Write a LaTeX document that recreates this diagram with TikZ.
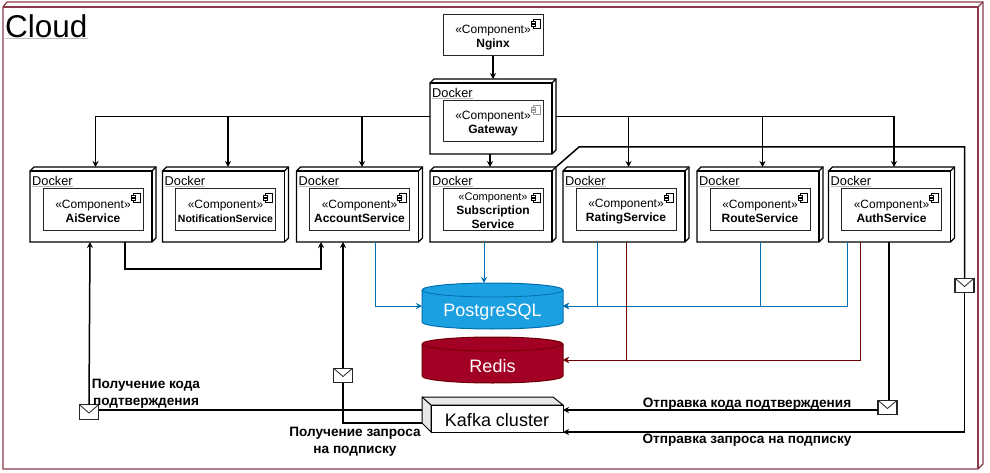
\documentclass[tikz,border=0pt]{standalone}
\usepackage{fontspec}
\setmainfont{Liberation Sans}
\usetikzlibrary{arrows.meta,calc}
\definecolor{cloudline}{HTML}{8A3A48}
\definecolor{dbblue}{HTML}{1BA1E2}
\definecolor{dbblueline}{HTML}{006EAF}
\definecolor{dbred}{HTML}{A20025}
\definecolor{dbredline}{HTML}{6F0000}
\newcommand{\grayunder}[1]{\setbox0\hbox{#1}\rlap{\color{lightgray}\rule[-1.2pt]{\wd0}{1pt}}\box0}
\newcommand{\fsize}[2]{\fontsize{#1}{#2}\selectfont}
\newcommand{\complabel}[1][12.6pt]{\rule{0pt}{#1}«Component»}
\newcommand{\compicon}[2][black]{
  \draw [compicon,draw=#1] ([shift={(-10,4)}]#2.north east) rectangle ([shift={(-3,13)}]#2.north east);
  \draw [compicon,draw=#1] ([shift={(-12,6)}]#2.north east) rectangle ([shift={(-8,8)}]#2.north east);
  \draw [compicon,draw=#1] ([shift={(-12,9)}]#2.north east) rectangle ([shift={(-8,11)}]#2.north east);
}
\newcommand{\dockerparts}[2]{
  \draw [line width=1.2pt,fill=white] (#1.south west) -- ([shift={(0,4)}]#1.north west) -- ([shift={(4,0)}]#1.north west) -- (#1.north east) -- ([shift={(0,-4)}]#1.south east) -- ([shift={(-4,0)}]#1.south east) -- cycle;
  \draw [line width=1.2pt] ([shift={(0,4)}]#1.north west) -- ([shift={(-4,4)}]#1.north east) -- ([shift={(-4,0)}]#1.south east);
  \draw [line width=1.2pt] ([shift={(-4,4)}]#1.north east) -- (#1.north east);
  \node [dockertext] (#1-docker) at ([shift={(2,18.5)}]#1.north west) {\grayunder{Docker}};
  \node [compbox] (#1-comp) at ([yshift=-5pt]#1.center) {#2};
}
\newcommand{\dbparts}[4]{
  \draw [draw=#3,fill=#2,line width=1pt] ([shift={(0,7)}]#1.north west) arc [start angle=180,end angle=0,x radius=70.5pt,y radius=7pt] -- ([shift={(0,-7)}]#1.south east) arc [start angle=0,end angle=-180,x radius=70.5pt,y radius=7pt] -- cycle;
  \draw [draw=#3,line width=0.8pt] ([shift={(0,7)}]#1.north west) arc [start angle=180,end angle=360,x radius=70.5pt,y radius=7pt];
  \node [dbtext] (#1-text) at ([yshift=-6.5pt]#1.center) {#4};
}
\begin{document}
\begin{tikzpicture}[x=1pt,y=-1pt,
  dockerbox/.style={minimum width=126pt,minimum height=75pt,inner sep=0pt,outer sep=0pt},
  dockertext/.style={anchor=base west,inner sep=0pt,font=\fsize{12.8}{15}},
  compbox/.style={draw=black!85,line width=1pt,minimum width=100pt,minimum height=41pt,inner sep=0pt,outer sep=0pt,align=center,font=\fsize{12}{14}},
  compicon/.style={line width=0.7pt,fill=white},
  mailbox/.style={draw=black!85,fill=white,line width=1.1pt,minimum width=19pt,minimum height=14.5pt,inner sep=0pt,outer sep=0pt,
    path picture={\draw[line width=0.8pt] (path picture bounding box.north west) -- ($(path picture bounding box.center)+(0,1)$) -- (path picture bounding box.north east);}},
  dbbox/.style={minimum width=141pt,minimum height=46pt,inner sep=0pt,outer sep=0pt},
  dbtext/.style={inner sep=0pt,text=white,font=\fsize{18}{20}},
  wire/.style={line width=1.5pt,black},
  flow/.style={wire,-{Stealth[length=6pt,width=6pt]}},
  blueflow/.style={flow,dbblueline,line width=0.95pt},
  redflow/.style={flow,dbredline,line width=0.95pt},
  msgtext/.style={inner sep=0pt,align=center,font=\bfseries\fsize{13.6}{17}}]
\useasboundingbox (0,0) rectangle (990,473);
\draw [cloudline,line width=1.2pt] (3,7) -- (7,2) -- (983,2) -- (983,464) -- (978,469) -- (3,469) -- cycle;
\draw [cloudline,line width=1.2pt] (3,7) -- (978,7) -- (978,469);
\draw [cloudline,line width=1.2pt] (978,7) -- (983,2);
\node [anchor=base west,inner sep=0pt,font=\fsize{31.5}{34}] (cloudlabel) at (5,37.5) {\grayunder{Cloud}};

\node [compbox] (nginx) at (493,35.5) {\complabel\\\textbf{Nginx}};
\compicon{nginx}

\node [dockerbox] (gateway) at (493,116.5) {};
\node [dockerbox] (ai) at (93,204.5) {};
\node [dockerbox] (notification) at (225.5,204.5) {};
\node [dockerbox] (account) at (359.5,204.5) {};
\node [dockerbox] (subscription) at (493,204.5) {};
\node [dockerbox] (rating) at (626,204.5) {};
\node [dockerbox] (route) at (760,204.5) {};
\node [dockerbox] (auth) at (891.5,204.5) {};

\dockerparts{gateway}{\complabel\\\textbf{Gateway}}
\compicon[black!40]{gateway-comp}
\dockerparts{ai}{\complabel\\\textbf{AiService}}
\compicon{ai-comp}
\dockerparts{notification}{\fsize{12}{12}\complabel[11.5pt]\\\textbf{\fsize{10.5}{12}NotificationService}}
\compicon{notification-comp}
\dockerparts{account}{\complabel\\\textbf{AccountService}}
\compicon{account-comp}
\dockerparts{subscription}{\fsize{11}{13.5}\complabel[11pt]\\\textbf{Subscription}\\\textbf{Service}}
\compicon{subscription-comp}
\dockerparts{rating}{\complabel\\\textbf{RatingService}}
\compicon{rating-comp}
\dockerparts{route}{\complabel\\\textbf{RouteService}}
\compicon{route-comp}
\dockerparts{auth}{\complabel\\\textbf{AuthService}}
\compicon{auth-comp}

\node [dbbox] (postgres) at (492.5,306) {};
\dbparts{postgres}{dbblue}{dbblueline}{PostgreSQL}
\node [dbbox] (redis) at (492.5,360) {};
\dbparts{redis}{dbred}{dbredline}{Redis}

\draw [line width=1pt,fill=black!9] (422,397) -- (553,397) -- (563,405) -- (431,405) -- (431,432) -- (422,423) -- cycle;
\node [draw,fill=white,line width=1pt,minimum width=132pt,minimum height=27pt,inner sep=0pt,outer sep=0pt,font=\fsize{18}{20}] (kafka) at (497,418.5) {\rule{0pt}{16pt}Kafka cluster};
\draw [line width=1pt] (422,397) -- (kafka.north west);

\node [mailbox] (mailcodein) at (89,412) {};
\node [mailbox] (mailsubin) at (343,375.5) {};
\node [mailbox] (mailcodeout) at (887.5,407.5) {};
\node [mailbox] (mailsubout) at (964.5,285.5) {};
\coordinate (subbend) at (579,147);

\draw [flow] (nginx.south) -- (gateway.north);
\draw [flow] (gateway.west) -| ([xshift=2.5pt]ai.north);
\draw [flow] (gateway.west) -| ([xshift=2.5pt]notification.north);
\draw [flow] (gateway.west) -| ([xshift=2.5pt]account.north);
\draw [flow] (gateway.east) -| ([xshift=2.5pt]rating.north);
\draw [flow] (gateway.east) -| ([xshift=2.5pt]route.north);
\draw [flow] (gateway.east) -| ([xshift=2.5pt]auth.north);
\draw [flow] ([xshift=-3pt]gateway.south) -- ([xshift=-3pt]subscription.north);
\draw [flow] ([xshift=32pt]ai.south) -- ++(0,27) -| ([xshift=-38.5pt]account.south);

\draw [blueflow] ([xshift=15.5pt]account.south) |- (postgres.west);
\draw [blueflow] ([xshift=-9pt]subscription.south) -- ([xshift=-8.5pt]postgres.north);
\draw [blueflow] ([xshift=-29pt]rating.south) |- (postgres.east);
\draw [blueflow] (route.south) |- (postgres.east);
\draw [blueflow] ([xshift=-44.5pt]auth.south) |- (postgres.east);
\draw [redflow] (rating.south) |- (redis.east);
\draw [redflow] ([xshift=-31.5pt]auth.south) |- (redis.east);

\draw [wire] ([xshift=-2.5pt]auth.south) -- ([xshift=1.5pt]mailcodeout.north);
\draw [flow] ([shift={(0,2.5)}]mailcodeout.west) -- ([shift={(0,5)}]kafka.north east);
\draw [wire] (subscription.north east) -- (subbend) -| (mailsubout.north);
\draw [flow] (mailsubout.south) |- (kafka.south east);
\draw [wire] ([shift={(-9,5)}]kafka.north west) -- ([shift={(0,-2)}]mailcodein.east);
\draw [flow] (mailcodein.north) -- ([xshift=-3pt]ai.south);
\draw [wire] ([shift={(-9,-9)}]kafka.south west) -| (mailsubin.south);
\draw [flow] (mailsubin.north) -- ([xshift=-16.5pt]account.south);

\node [msgtext] (codein) at (146,393.7) {Получение кода\\подтверждения};
\node [msgtext] (subin) at (355,441.5) {Получение запроса\\на подписку};
\node [msgtext] (codeout) at (747,404) {Отправка кода подтверждения};
\node [msgtext] (subout) at (747,440.5) {Отправка запроса на подписку};
\end{tikzpicture}
\end{document}
